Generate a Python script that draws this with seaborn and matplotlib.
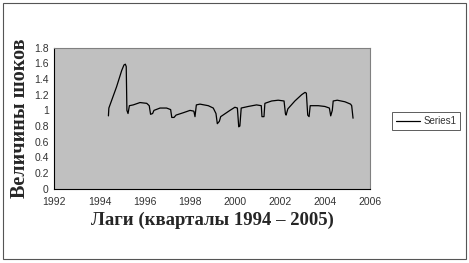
import matplotlib
matplotlib.use("Agg")
import matplotlib.pyplot as plt
import seaborn as sns
import pandas as pd
from matplotlib.patches import Rectangle

# Values (year, shock size)
years = [1994.40, 1994.42, 1994.76, 1994.99, 1995.09, 1995.15, 1995.19, 1995.22,
         1995.27, 1995.33, 1995.50, 1995.80, 1996.10, 1996.21, 1996.27, 1996.36,
         1996.42, 1996.69, 1996.98, 1997.16, 1997.21, 1997.31, 1997.40, 1997.72,
         1998.02, 1998.19, 1998.24, 1998.30, 1998.46, 1998.83, 1999.05, 1999.17,
         1999.23, 1999.32, 1999.38, 1999.79, 2000.01, 2000.12, 2000.18, 2000.23,
         2000.29, 2000.60, 2000.97, 2001.18, 2001.21, 2001.30, 2001.34, 2001.64,
         2001.93, 2002.19, 2002.25, 2002.28, 2002.36, 2002.67, 2002.97, 2003.12,
         2003.18, 2003.24, 2003.30, 2003.35, 2003.71, 2004.00, 2004.20, 2004.26,
         2004.33, 2004.37, 2004.55, 2004.89, 2005.14, 2005.19, 2005.25]
shocks = [0.93, 1.03, 1.30, 1.51, 1.58, 1.59, 1.56, 1.00,
          0.96, 1.06, 1.07, 1.10, 1.09, 1.06, 0.95, 0.96,
          1.00, 1.03, 1.03, 1.01, 0.91, 0.91, 0.94, 0.97,
          1.00, 0.99, 0.92, 1.07, 1.08, 1.06, 1.03, 0.96,
          0.83, 0.86, 0.92, 1.00, 1.04, 1.03, 0.79, 0.80,
          1.03, 1.05, 1.07, 1.06, 0.92, 0.92, 1.09, 1.12,
          1.13, 1.12, 0.96, 0.94, 1.02, 1.12, 1.20, 1.23,
          1.22, 0.94, 0.92, 1.06, 1.06, 1.05, 1.03, 0.93,
          1.00, 1.12, 1.13, 1.11, 1.08, 1.06, 0.90]

x_ticks = [1992, 1994, 1996, 1998, 2000, 2002, 2004, 2006]
y_ticks = [0, 0.2, 0.4, 0.6, 0.8, 1, 1.2, 1.4, 1.6, 1.8]
y_tick_labels = ["0", "0.2", "0.4", "0.6", "0.8", "1", "1.2", "1.4", "1.6", "1.8"]

df = pd.DataFrame({"year": years, "shock": shocks, "series": "Series1"})

sns.set_style("white")
plt.rcParams["font.family"] = ["Liberation Sans", "DejaVu Sans"]

fig = plt.figure(figsize=(4.69, 2.63), dpi=100)
fig.patches.append(Rectangle((0.006, 0.015), 0.988, 0.972, transform=fig.transFigure,
                             fill=False, edgecolor="#555555", linewidth=0.8))

ax = fig.add_axes([0.1158, 0.2825, 0.673, 0.536])
ax.set_facecolor("#c0c0c0")

sns.lineplot(data=df, x="year", y="shock", hue="series", palette=["black"],
             linewidth=0.9, sort=False, ax=ax)

ax.set_xlim(1992, 2006)
ax.set_ylim(0, 1.8)
ax.set_xticks(x_ticks)
ax.set_yticks(y_ticks)
ax.set_yticklabels(y_tick_labels)
ax.tick_params(axis="both", labelsize=7.5, colors="#333333", length=4,
               direction="inout", width=0.7, pad=2)
ax.tick_params(axis="x", pad=4)

for side in ["top", "right"]:
    ax.spines[side].set_color("#808080")
    ax.spines[side].set_linewidth(0.8)
for side in ["left", "bottom"]:
    ax.spines[side].set_color("black")
    ax.spines[side].set_linewidth(0.8)

ax.set_xlabel("Лаги (кварталы 1994 – 2005)", fontsize=13.5, fontweight="bold",
              family=["Liberation Serif", "DejaVu Serif"], labelpad=3)
ax.set_ylabel("Величины шоков", fontsize=14.5, fontweight="bold",
              family=["Liberation Serif", "DejaVu Serif"], labelpad=3)

leg = ax.legend(loc="center left", bbox_to_anchor=(1.055, 0.48), fontsize=7,
                frameon=True, fancybox=False, handlelength=2.5, borderpad=0.4,
                handletextpad=0.3)
leg.get_frame().set_edgecolor("#333333")
leg.get_frame().set_linewidth(0.7)
for t in leg.get_texts():
    t.set_color("#333333")

fig.savefig("out.png", dpi=100)
